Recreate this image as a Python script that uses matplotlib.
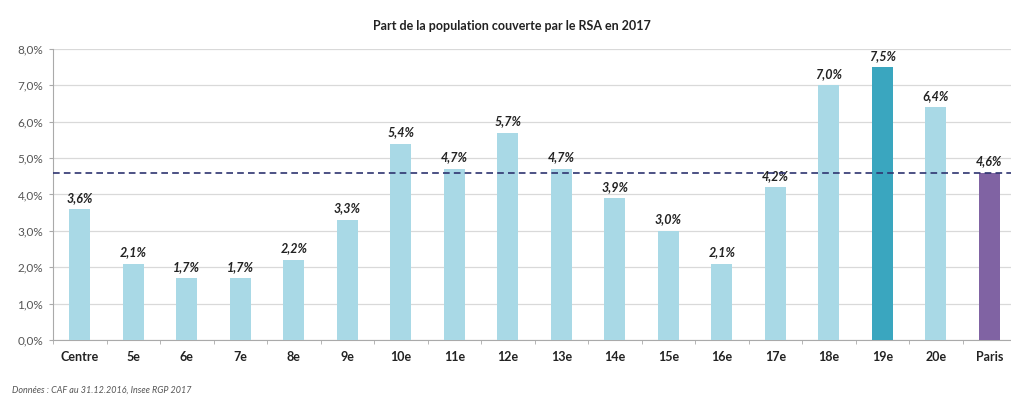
import numpy as np
import matplotlib.pyplot as plt

# data
categories = ['Centre', '5e', '6e', '7e', '8e', '9e', '10e', '11e', '12e', '13e',
              '14e', '15e', '16e', '17e', '18e', '19e', '20e', 'Paris']
values = [3.6, 2.1, 1.7, 1.7, 2.2, 3.3, 5.4, 4.7, 5.7, 4.7,
          3.9, 3.0, 2.1, 4.2, 7.0, 7.5, 6.4, 4.6]
paris_mean = 4.6
y_ticks = [0, 1, 2, 3, 4, 5, 6, 7, 8]

plt.rcParams['font.family'] = ['Lato', 'DejaVu Sans']

colors = ['#a9d9e6'] * len(categories)
colors[categories.index('19e')] = '#3aa6bf'
colors[categories.index('Paris')] = '#8063a3'

fig = plt.figure(figsize=(10.12, 3.97), dpi=100)
ax = fig.add_axes([0.0524, 0.1436, 0.9516, 0.733])

x = np.arange(len(categories))
ax.bar(x, values, width=0.4, color=colors, zorder=3)

# dashed line = Paris level
ax.axhline(paris_mean, color='#2e3470', lw=1.2, ls=(0, (4, 2.5)), zorder=4)

for xi, v in zip(x, values):
    ax.text(xi, v + 0.15, f'{v:.1f}%'.replace('.', ','), ha='center', va='bottom',
            fontsize=9, fontweight='bold', fontstyle='italic', color='#222222')

ax.set_xlim(-0.5, len(categories) - 0.5)
ax.set_ylim(0, 8)
ax.set_yticks(y_ticks)
ax.set_yticklabels([f'{t:.1f}%'.replace('.', ',') for t in y_ticks], fontsize=8.5, color='#555555')
ax.set_xticks(x)
ax.set_xticklabels(categories, fontsize=9, fontweight='bold', color='#222222')
ax.set_xticks(np.arange(-0.5, len(categories), 1), minor=True)
ax.tick_params(axis='x', which='major', length=0, pad=8)
ax.tick_params(axis='x', which='minor', length=3, color='#aaaaaa')
ax.tick_params(axis='y', length=3, color='#aaaaaa', pad=4)

ax.grid(axis='y', color='#d9d9d9', lw=0.9, zorder=0)
for s in ['top', 'right']:
    ax.spines[s].set_visible(False)
ax.spines['left'].set_color('#aaaaaa')
ax.spines['bottom'].set_color('#aaaaaa')

fig.text(0.506, 0.925, 'Part de la population couverte par le RSA en 2017', ha='center',
         fontsize=9, fontweight='bold', color='#222222')
fig.text(0.012, 0.01, 'Données : CAF au 31.12.2016, Insee RGP 2017', ha='left',
         fontsize=6.5, fontstyle='italic', color='#555555')

fig.savefig('out.png', dpi=100)
